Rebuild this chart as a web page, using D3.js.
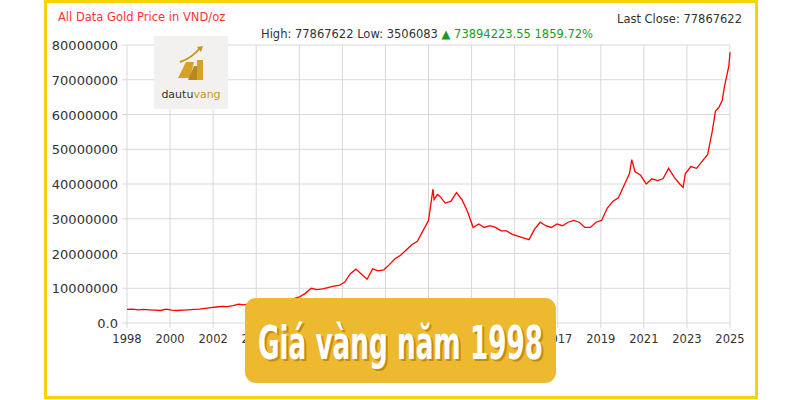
<!DOCTYPE html>
<html><head><meta charset="utf-8">
<script src="https://cdn.jsdelivr.net/npm/d3@7"></script>
<style>body{margin:0;background:#fff}svg{display:block}</style>
</head><body><svg id="c" width="800" height="400"></svg>
<script>
const years=[1998,1998.25,1998.5,1998.75,1999,1999.25,1999.5,1999.75,2000,2000.25,2000.5,2000.75,2001,2001.25,2001.5,2001.75,2002,2002.25,2002.5,2002.75,2003,2003.25,2003.5,2003.75,2004,2004.25,2004.5,2004.75,2005,2005.25,2005.5,2005.75,2006,2006.25,2006.5,2006.75,2007,2007.25,2007.5,2007.75,2008,2008.25,2008.5,2008.75,2009,2009.25,2009.5,2009.75,2010,2010.25,2010.5,2010.75,2011,2011.25,2011.5,2011.6,2011.7,2011.75,2011.9,2012,2012.25,2012.5,2012.75,2013,2013.25,2013.5,2013.75,2014,2014.25,2014.5,2014.75,2015,2015.25,2015.5,2015.75,2016,2016.25,2016.5,2016.75,2017,2017.25,2017.5,2017.75,2018,2018.25,2018.5,2018.75,2019,2019.25,2019.5,2019.75,2020,2020.25,2020.5,2020.6,2020.75,2021,2021.25,2021.5,2021.75,2022,2022.25,2022.5,2022.75,2022.9,2023,2023.25,2023.5,2023.75,2024,2024.2,2024.35,2024.5,2024.65,2024.75,2024.85,2024.95,2025];
const prices=[3.9,4.0,3.8,3.9,3.8,3.7,3.6,4.0,3.7,3.6,3.7,3.8,3.9,4.0,4.2,4.4,4.6,4.8,4.7,5.0,5.4,5.2,5.6,5.9,6.2,6.0,6.3,6.6,6.8,7.0,7.1,7.6,8.6,10.0,9.6,9.8,10.2,10.6,10.8,11.8,14.2,15.5,14.0,12.6,15.6,15.0,15.3,16.8,18.5,19.5,21.0,22.5,23.5,26.5,29.5,34,38.5,35.5,37,36.5,34.5,35,37.5,35.5,32,27.5,28.5,27.5,28,27.5,26.5,26.5,25.5,25.0,24.5,24,27,29,28,27.5,28.5,28,29,29.5,29,27.5,27.5,29,29.5,33,35,36,39.5,43,47,43.5,42.5,40,41.5,41,41.5,44.5,42,40,39,43,45,44.5,46.5,48.5,55,61,62,64,68,71,74,77.9].map(v=>v*1e6);
const xLabels=["1998","2000","2002","2004","2006","2008","2009","2011","2013","2015","2017","2019","2021","2023","2025"];
const yTicks=[0,10e6,20e6,30e6,40e6,50e6,60e6,70e6,80e6];

const svg=d3.select("#c");
const x=d3.scaleLinear().domain([1998,2025]).range([127,730]);
const xl=d3.scalePoint().domain(xLabels).range([127,730]);
const y=d3.scaleLinear().domain([0,80e6]).range([323,45]);
const F="'DejaVu Sans', sans-serif";

svg.append("rect").attr("x",45.5).attr("y",1.5).attr("width",711).attr("height",396).attr("fill","#fff").attr("stroke","#F5D20A").attr("stroke-width",3);

const grid=svg.append("g").attr("stroke","#d8d8d8").attr("stroke-width",1);
grid.selectAll(".v").data(xLabels).join("line").attr("x1",d=>xl(d)).attr("x2",d=>xl(d)).attr("y1",45).attr("y2",328);
grid.selectAll(".h").data(yTicks).join("line").attr("x1",122).attr("x2",730).attr("y1",d=>y(d)).attr("y2",d=>y(d));

svg.append("g").selectAll("text").data(yTicks).join("text").attr("x",118).attr("y",d=>y(d)+5).attr("text-anchor","end")
 .attr("font-family",F).attr("font-size",13).attr("fill","#333").text(d=>d===0?"0.0":d3.format("d")(d));
svg.append("g").selectAll("text").data(xLabels).join("text").attr("x",d=>xl(d)).attr("y",343).attr("text-anchor","middle")
 .attr("font-family",F).attr("font-size",11.5).attr("fill","#333").text(d=>d);

const line=d3.line().x((d,i)=>x(years[i])).y(d=>y(d));
svg.append("path").datum(prices).attr("d",line).attr("fill","none").attr("stroke","#f00").attr("stroke-width",1.3);

svg.append("text").attr("x",58).attr("y",21).attr("font-family",F).attr("font-size",11.5).attr("fill","#f33").text("All Data Gold Price in VND/oz");
svg.append("text").attr("x",742).attr("y",23).attr("text-anchor","end").attr("font-family",F).attr("font-size",11.5).attr("fill","#333").text("Last Close: 77867622");
const h=svg.append("text").attr("x",261).attr("y",38).attr("font-family",F).attr("font-size",11.5).attr("fill","#333");
h.append("tspan").text("High: 77867622 Low: 3506083 ");
h.append("tspan").attr("fill","#1a9a1a").text("▲ 73894223.55 1859.72%");

// logo
const lg=svg.append("g");
lg.append("rect").attr("x",154).attr("y",36).attr("width",74).attr("height",73).attr("fill","#f2f1ef");
lg.append("path").attr("d","M178,78 L186,62 L194,62 L190,78 Z").attr("fill","#d4a326");
lg.append("path").attr("d","M188,80 L194,66 L199,66 L197,80 Z").attr("fill","#b8891c");
lg.append("rect").attr("x",197).attr("y",60).attr("width",6).attr("height",20).attr("fill","#d4a326");
lg.append("path").attr("d","M180,62 Q192,58 200,48").attr("fill","none").attr("stroke","#c8961e").attr("stroke-width",2);
lg.append("path").attr("d","M197,47 L203,46 L201,52 Z").attr("fill","#c8961e");
const lt=lg.append("text").attr("x",191).attr("y",98).attr("text-anchor","middle").attr("font-family",F).attr("font-size",11);
lt.append("tspan").attr("fill","#333").text("dautu");
lt.append("tspan").attr("fill","#c8961e").text("vang");

// banner
svg.append("rect").attr("x",245).attr("y",298).attr("width",311).attr("height",85).attr("rx",11).attr("fill","#EDB92E");
[["#c98a10",2],["#fff",0]].forEach(([c,o])=>{
 svg.append("text").attr("x",258+o).attr("y",359+o).attr("font-family",F)
  .attr("font-weight","bold").attr("font-size",46).attr("fill",c)
  .attr("textLength",285).attr("lengthAdjust","spacingAndGlyphs").text("Giá vàng năm 1998");
});
</script></body></html>
